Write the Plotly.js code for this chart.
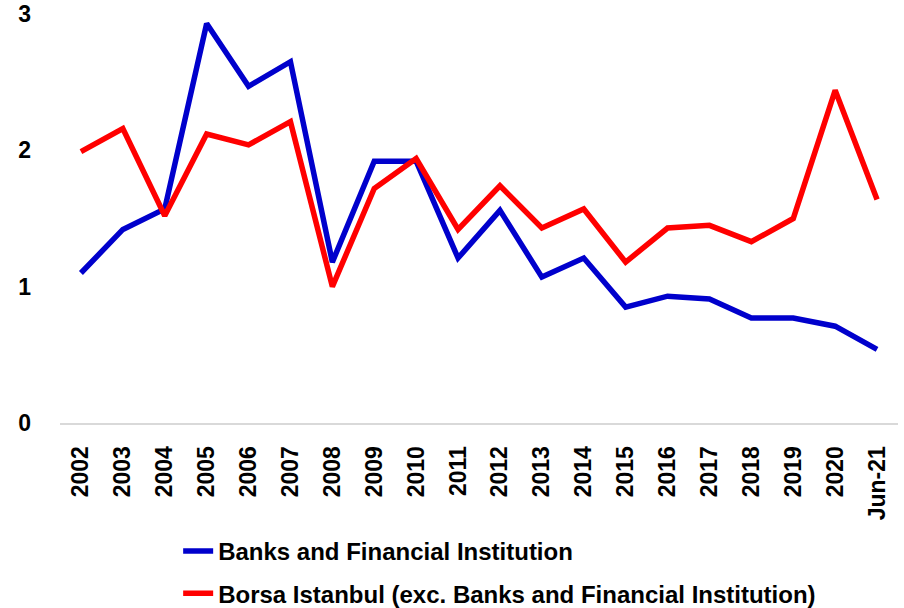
<!DOCTYPE html>
<html>
<head>
<meta charset="utf-8">
<script src="https://cdn.plot.ly/plotly-3.0.1.min.js"></script>
<style>html,body{margin:0;padding:0;background:#fff;}#chart{width:904px;height:608px;}</style>
</head>
<body>
<div id="chart"></div>
<script>
var categories = ["2002","2003","2004","2005","2006","2007","2008","2009","2010","2011","2012","2013","2014","2015","2016","2017","2018","2019","2020","Jun-21"];
var banks = [1.10,1.42,1.57,2.93,2.47,2.65,1.18,1.92,1.92,1.21,1.56,1.07,1.21,0.85,0.93,0.91,0.77,0.77,0.71,0.54];
var borsa = [1.99,2.16,1.52,2.12,2.04,2.21,1.00,1.72,1.94,1.42,1.74,1.43,1.57,1.18,1.43,1.45,1.33,1.50,2.44,1.64];
var yTicks = [0,1,2,3];
var seriesNames = ["Banks and Financial Institution","Borsa Istanbul (exc. Banks and Financial Institution)"];

var FONT = "Liberation Sans, Arial, sans-serif";
var traces = [
  {x: categories, y: banks, name: seriesNames[0], type: "scatter", mode: "lines",
   line: {color: "#0000CC", width: 5.5}, legendgroup: "a"},
  {x: categories, y: borsa, name: seriesNames[1], type: "scatter", mode: "lines",
   line: {color: "#FF0000", width: 5.5}, legendgroup: "b"}
];
var layout = {
  width: 904, height: 608,
  margin: {l: 60, r: 6, t: 14, b: 185},
  paper_bgcolor: "#ffffff", plot_bgcolor: "#ffffff",
  font: {family: FONT, color: "#000000", size: 22},
  showlegend: true,
  legend: {orientation: "v", x: 0.141, xanchor: "left", yref: "container", y: 0.13, yanchor: "top",
           font: {family: FONT, size: 24, color: "#000", weight: "bold"}, tracegroupgap: 8,
           bgcolor: "rgba(0,0,0,0)"},
  xaxis: {type: "category", tickangle: -90, showgrid: false, zeroline: false,
          showline: true, linecolor: "#d9d9d9", linewidth: 2, ticks: "",
          ticklabelstandoff: 12,
          tickfont: {family: FONT, size: 23, color: "#000", weight: "bold"},
          range: [-0.5, 19.5]},
  yaxis: {range: [0, 3], tickvals: yTicks, ticktext: yTicks.map(String), showgrid: false,
          zeroline: false, showline: false, ticks: "", ticklabelstandoff: 28,
          tickfont: {family: FONT, size: 23, color: "#000", weight: "bold"}}
};
Plotly.newPlot("chart", traces, layout, {displayModeBar: false, staticPlot: true});
</script>
</body>
</html>
